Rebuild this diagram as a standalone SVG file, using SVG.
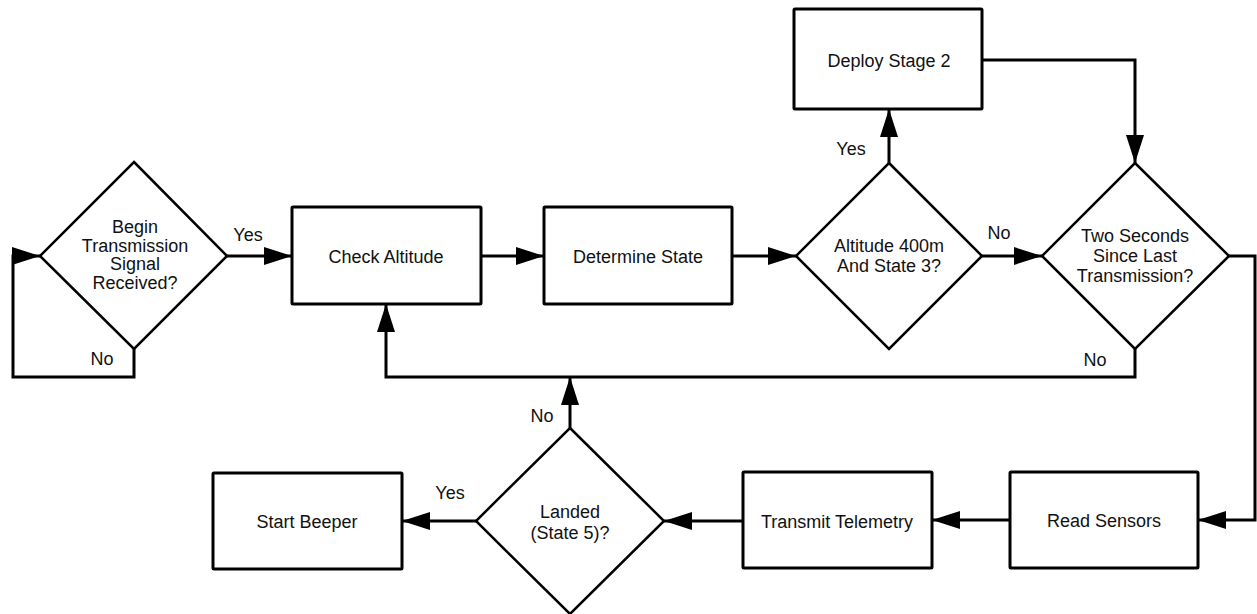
<svg xmlns="http://www.w3.org/2000/svg" width="1257" height="614" viewBox="0 0 1257 614">
<style>
.box{fill:#fff;stroke:#000;stroke-width:3;stroke-linejoin:round}
.dia{fill:#fff;stroke:#000;stroke-width:2.5;stroke-linejoin:miter}
.edge{fill:none;stroke:#000;stroke-width:3;stroke-linejoin:miter}
text{font-family:"Liberation Sans",Arial,Helvetica,sans-serif;font-size:18px;fill:#111;text-anchor:middle}
</style>
<defs>
<marker id="ah" markerUnits="userSpaceOnUse" markerWidth="28" markerHeight="18" refX="28" refY="9" orient="auto" viewBox="0 0 28 18">
<path d="M0,0 L28,9 L0,18 z" fill="#000"/>
</marker>
</defs>
<rect width="1257" height="614" fill="#fff"/>
<g id="connectors">
<path class="edge" d="M134,349 V377 H13 V256 H40" marker-end="url(#ah)"/>
<path class="edge" d="M227,256 H292" marker-end="url(#ah)"/>
<path class="edge" d="M481,256 H544" marker-end="url(#ah)"/>
<path class="edge" d="M732,256 H796" marker-end="url(#ah)"/>
<path class="edge" d="M889,163 V109" marker-end="url(#ah)"/>
<path class="edge" d="M982,256 H1042" marker-end="url(#ah)"/>
<path class="edge" d="M982,60 H1135 V163" marker-end="url(#ah)"/>
<path class="edge" d="M1135,349 V377 H386 V304" marker-end="url(#ah)"/>
<path class="edge" d="M1229,256 H1255 V520 H1198" marker-end="url(#ah)"/>
<path class="edge" d="M1010,520 H932" marker-end="url(#ah)"/>
<path class="edge" d="M743,521 H664" marker-end="url(#ah)"/>
<path class="edge" d="M477,521 H402" marker-end="url(#ah)"/>
<path class="edge" d="M570,429 V377" marker-end="url(#ah)"/>
<text x="248" y="241">Yes</text>
<text x="102" y="365">No</text>
<text x="851" y="155">Yes</text>
<text x="999" y="239">No</text>
<text x="1095" y="366">No</text>
<text x="542" y="422">No</text>
<text x="450" y="499">Yes</text>
</g>
<g id="begin">
<polygon class="dia" points="134,162 227,256 134,349 40,256"/>
<text x="135" y="233">Begin</text>
<text x="135" y="251.5">Transmission</text>
<text x="135" y="270">Signal</text>
<text x="135" y="288.5">Received?</text>
</g>
<g id="check-altitude">
<rect class="box" x="292" y="207" width="189" height="97" rx="1"/>
<text x="386" y="263">Check Altitude</text>
</g>
<g id="determine-state">
<rect class="box" x="544" y="207" width="188" height="97" rx="1"/>
<text x="638" y="263">Determine State</text>
</g>
<g id="altitude-check">
<polygon class="dia" points="889,163 982,256 889,349 796,256"/>
<text x="889" y="252">Altitude 400m</text>
<text x="889" y="272">And State 3?</text>
</g>
<g id="deploy">
<rect class="box" x="794" y="9" width="188" height="100" rx="1"/>
<text x="889" y="67">Deploy Stage 2</text>
</g>
<g id="two-seconds">
<polygon class="dia" points="1135,163 1229,256 1135,349 1042,256"/>
<text x="1135" y="242">Two Seconds</text>
<text x="1135" y="262">Since Last</text>
<text x="1135" y="282">Transmission?</text>
</g>
<g id="read-sensors">
<rect class="box" x="1010" y="472" width="188" height="96" rx="1"/>
<text x="1104" y="527">Read Sensors</text>
</g>
<g id="transmit">
<rect class="box" x="743" y="472" width="189" height="96" rx="1"/>
<text x="837" y="528">Transmit Telemetry</text>
</g>
<g id="landed">
<polygon class="dia" points="570,428 664,521 570,614 476,521"/>
<text x="570" y="518">Landed</text>
<text x="570" y="539">(State 5)?</text>
</g>
<g id="beeper">
<rect class="box" x="213" y="473" width="189" height="96" rx="1"/>
<text x="307" y="528">Start Beeper</text>
</g>
</svg>
